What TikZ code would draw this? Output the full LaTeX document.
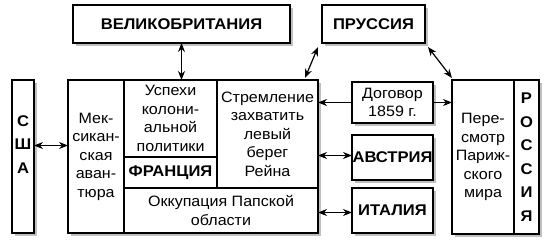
\documentclass[tikz,border=0pt]{standalone}
\usepackage{fontspec}
\setmainfont{Liberation Sans}[FakeStretch=1.07]
\usetikzlibrary{arrows.meta, positioning, calc, shadows}
\tikzset{
  box/.style={rectangle, draw=black, line width=1.4pt, fill=white, inner sep=0pt, outer sep=0pt,
    anchor=north west, align=center, font=\fontsize{15}{18.5}\selectfont},
  cell/.style={rectangle, draw=black, line width=1.4pt, inner sep=0pt, outer sep=0pt,
    anchor=north west, align=center, font=\fontsize{15}{18.5}\selectfont},
  shade/.style={drop shadow={shadow xshift=2.5pt, shadow yshift=-2.5pt, opacity=0.25, fill=black}},
  title/.style={font=\fontsize{15.5}{18}\selectfont\bfseries},
  letters/.style={align=center, inner sep=0pt, font=\fontsize{15.5}{23.5}\selectfont\bfseries},
  dims/.style 2 args={minimum width=#1pt, minimum height=#2pt},
  arr/.style={line width=1.2pt, -{Stealth[length=9pt, width=7pt]}},
  arrs/.style={line width=1.2pt, {Stealth[length=9pt, width=7pt]}-{Stealth[length=9pt, width=7pt]}}
}
\begin{document}
\begin{tikzpicture}[x=1pt, y=-1pt]
\useasboundingbox (0,0) rectangle (550,250);
% top row
\node (gb) [box, shade, title, dims={217}{38}] at (73,5) {ВЕЛИКОБРИТАНИЯ};
\node (prussia) [box, shade, title, dims={103}{38}] at (322,5) {ПРУССИЯ};
% USA
\node (usa) [box, shade, dims={22}{153}] at (12,80) {};
\node (usaL) [letters] at ([yshift=12pt]usa.center) {С\\Ш\\А};
% France block
\node (france) [box, shade, dims={250}{153}] at (68,80) {};
\node (mex) [cell, dims={56}{153}] at (68,80) {Мек-\\сикан-\\ская\\аван-\\тюра};
\node (uspehi) [cell, dims={93}{77}] at (124,80) {Успехи\\колони-\\альной\\политики};
\node (strem) [cell, dims={101}{108}] at (217,80) {Стремление\\захватить\\левый\\берег\\Рейна};
\node (francia) [cell, title, dims={93}{31}] at (124,157) {ФРАНЦИЯ};
\node (okkup) [cell, dims={194}{45}] at (124,188) {Оккупация Папской\\области};
% middle column
\node (dogovor) [box, shade, dims={81}{41}] at (352,82) {Договор\\1859 г.};
\node (austria) [box, shade, title, dims={81}{45}] at (352,135) {АВСТРИЯ};
\node (italy) [box, shade, title, dims={81}{45}] at (352,188) {ИТАЛИЯ};
% Russia
\node (russia) [box, shade, dims={87}{154}] at (452,80) {};
\node (revis) [cell, dims={62}{154}] at (452,80) {Пере-\\смотр\\Париж-\\ского\\мира};
\node (russiaL) [letters] at ($(revis.east)!0.5!(russia.east)$) {Р\\О\\С\\С\\И\\Я};

\draw[arrs] (gb.south) -- (gb.south |- france.north);
\draw[arrs] ([xshift=-4pt,yshift=-4pt]prussia.south west) -- ([xshift=-13pt,yshift=2pt]strem.north east);
\draw[arrs] ([xshift=3pt,yshift=-4pt]prussia.south east) -- ([yshift=2pt]russia.north west);
\draw[arrs] ([yshift=11pt]usa.east) -- ([yshift=11pt]usa.east -| mex.west);
\draw[arr] (dogovor.west) -- (dogovor.west -| strem.east);
\draw[arr] (dogovor.east) -- (dogovor.east -| russia.west);
\draw[arrs] ([yshift=2pt]austria.west) -- ([yshift=2pt]austria.west -| strem.east);
\draw[arrs] ([yshift=-2pt]italy.west) -- ([yshift=-2pt]italy.west -| okkup.east);
\end{tikzpicture}
\end{document}
